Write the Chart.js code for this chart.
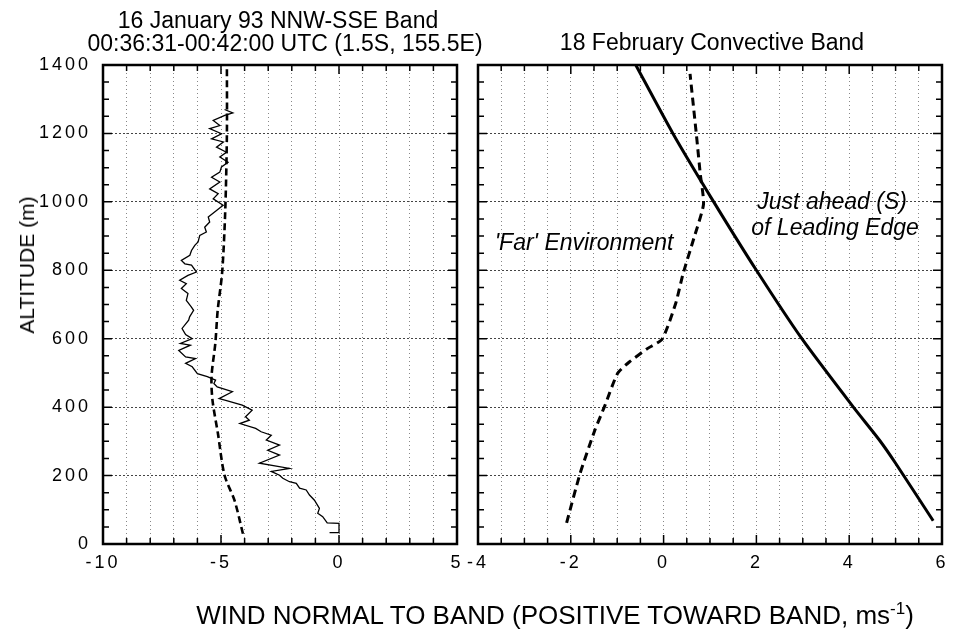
<!DOCTYPE html>
<html>
<head>
<meta charset="utf-8">
<script src="https://cdn.jsdelivr.net/npm/chart.js@4.4.1/dist/chart.umd.min.js"></script>
<style>
  body { margin: 0; background: #fff; }
  #wrap { position: relative; width: 955px; height: 636px; background: #fff; overflow: hidden; }
  canvas { position: absolute; top: 0; }
  .lbl { position: absolute; transform: translate(-50%, -50%); white-space: nowrap;
         font-family: "Liberation Sans", Arial, sans-serif; color: #000; }
</style>
</head>
<body>
<div id="wrap">
  <canvas id="janChart" width="475" height="600" style="left:0"></canvas>
  <canvas id="febChart" width="500" height="600" style="left:455px"></canvas>
  <div class="lbl" style="left:278px;top:20px;font-size:23px">16 January 93 NNW-SSE Band</div>
  <div class="lbl" style="left:285px;top:43px;font-size:23px">00:36:31-00:42:00 UTC (1.5S, 155.5E)</div>
  <div class="lbl" style="left:712px;top:42px;font-size:23px">18 February Convective Band</div>
  <div class="lbl" style="left:27px;top:265px;font-size:21px;transform:translate(-50%,-50%) rotate(-90deg)">ALTITUDE (m)</div>
  <div class="lbl" style="left:555px;top:615px;font-size:26px">WIND NORMAL TO BAND (POSITIVE TOWARD BAND, ms<sup style="font-size:17px">-1</sup>)</div>
</div>

<script>
// 16 January - aircraft profile (solid) and smoothed profile (dashed)
const janSolidWind = [-0.4, 0.0, 0.0, -0.5, -0.69, -0.9, -0.83, -1.04, -1.25, -1.39, -1.67, -1.81, -2.1, -2.38, -2.52, -2.87, -2.1, -3.37, -2.52, -3.02, -2.52, -3.08, -2.87, -3.3, -3.53, -4.2, -3.8, -3.96, -3.68, -4.1, -4.8, -5.08, -4.52, -5.16, -5.3, -5.23, -5.58, -6.0, -6.22, -6.5, -6.08, -6.5, -6.79, -6.3, -6.72, -6.22, -6.5, -6.65, -6.37, -6.33, -6.16, -6.26, -6.47, -6.4, -6.68, -6.47, -6.75, -6.4, -6.04, -6.25, -6.53, -6.68, -6.32, -6.25, -6.11, -5.97, -5.9, -5.62, -5.69, -5.48, -5.54, -5.19, -4.91, -5.33, -5.12, -5.48, -5.05, -5.4, -5.05, -4.98, -4.7, -5.05, -4.77, -5.19, -4.9, -5.4, -4.98, -5.48, -5.05, -5.33, -4.84, -4.5, -4.85];
const janSolidAlt = [33, 33, 60, 62, 80, 90, 104, 128, 143, 158, 163, 177, 182, 192, 201, 212, 221, 236, 260, 274, 289, 304, 318, 328, 338, 352, 362, 372, 391, 406, 420, 425, 445, 459, 469, 479, 489, 498, 518, 528, 542, 547, 566, 581, 586, 600, 612, 630, 654, 664, 683, 693, 712, 732, 747, 761, 771, 785, 795, 815, 819, 829, 844, 858, 873, 883, 902, 912, 926, 941, 956, 975, 990, 1009, 1024, 1038, 1058, 1072, 1087, 1102, 1116, 1131, 1145, 1160, 1175, 1184, 1199, 1214, 1223, 1238, 1253, 1260, 1270];
const janDashWind = [-4.07, -4.43, -4.85, -5.13, -5.36, -5.4, -5.24, -5.14, -4.95, -4.82, -4.75, -4.75];
const janDashAlt = [30, 128, 201, 323, 420, 490, 587, 683, 795, 975, 1200, 1400];

// 18 February - just ahead of leading edge (solid) and 'far' environment (dashed)
const febNearWind = [5.81, 5.0, 4.65, 4.09, 2.98, 2.0, 1.08, 0.2, -0.6];
const febNearAlt = [68, 236, 304, 400, 600, 800, 1000, 1200, 1400];
const febFarWind = [-2.09, -1.8, -1.48, -1.27, -0.99, -0.74, -0.35, -0.03, 0.26, 0.42, 0.66, 0.86, 0.79, 0.71, 0.57];
const febFarAlt = [62, 206, 333, 403, 499, 532, 571, 599, 703, 790, 897, 993, 1082, 1192, 1374];

const altTicks = [0, 200, 400, 600, 800, 1000, 1200, 1400];
const janTickLabels = [-10, -5, 0, 5];
const febTickLabels = [-4, -2, 0, 2, 4, 6];

const FONT = "'Liberation Sans', Arial, sans-serif";

function pts(xs, ys) {
  return xs.map((x, i) => ({ x: x, y: ys[i] }));
}

// inward tick marks + full frame, like the original plot
const frameTicks = {
  id: "frameTicks",
  beforeDraw(chart) {
    chart.ctx.letterSpacing = "3px";
  },
  afterDatasetsDraw(chart) {
    const ctx = chart.ctx;
    const a = chart.chartArea;
    const xs = chart.scales.x, ys = chart.scales.y;
    ctx.save();
    ctx.strokeStyle = "#000";
    ctx.lineWidth = 1.5;
    ctx.setLineDash([]);
    ctx.beginPath();
    xs.ticks.forEach((t) => {
      const px = xs.getPixelForValue(t.value);
      const len = t.label !== "" ? 9 : 6;
      ctx.moveTo(px, a.bottom); ctx.lineTo(px, a.bottom - len);
      ctx.moveTo(px, a.top); ctx.lineTo(px, a.top + len);
    });
    ys.ticks.forEach((t) => {
      const py = ys.getPixelForValue(t.value);
      const len = t.value % 200 === 0 ? 9 : 6;
      ctx.moveTo(a.left, py); ctx.lineTo(a.left + len, py);
      ctx.moveTo(a.right, py); ctx.lineTo(a.right - len, py);
    });
    ctx.stroke();
    ctx.lineWidth = 2.5;
    ctx.strokeRect(a.left, a.top, a.right - a.left, a.bottom - a.top);
    ctx.restore();
  }
};

// italic curve labels on the February panel
const curveNotes = {
  id: "curveNotes",
  afterDatasetsDraw(chart, args, opts) {
    if (!opts.notes) return;
    const ctx = chart.ctx;
    ctx.save();
    ctx.letterSpacing = "0px";
    ctx.font = "italic 23px " + FONT;
    ctx.fillStyle = "#000";
    ctx.textBaseline = "middle";
    opts.notes.forEach((n) => {
      ctx.fillText(n.text, chart.scales.x.getPixelForValue(n.x), chart.scales.y.getPixelForValue(n.y));
    });
    ctx.restore();
  }
};

function makeOptions(xMin, xMax, step, labels, showY, padRight, yWidth, notes) {
  return {
    responsive: false,
    animation: false,
    layout: { padding: { top: 65, right: padRight, left: 0, bottom: 0 } },
    plugins: {
      legend: { display: false },
      tooltip: { enabled: false },
      curveNotes: { notes: notes }
    },
    scales: {
      x: {
        type: "linear",
        min: xMin,
        max: xMax,
        afterFit: (s) => { s.height = 56; },
        ticks: {
          stepSize: step,
          autoSkip: false,
          maxRotation: 0,
          padding: 8,
          color: "#000",
          font: { family: FONT, size: 18 },
          callback: (v) => (labels.includes(v) ? String(v) : "")
        },
        grid: { color: "#888", lineWidth: 1, drawTicks: false },
        border: { display: false, dash: [1, 3] }
      },
      y: {
        type: "linear",
        min: 0,
        max: 1400,
        afterFit: (s) => { s.width = yWidth; },
        ticks: {
          stepSize: 50,
          autoSkip: false,
          display: showY,
          padding: 12,
          color: "#000",
          font: { family: FONT, size: 18 },
          callback: (v) => (altTicks.includes(v) ? String(v) : "")
        },
        grid: {
          drawTicks: false,
          lineWidth: 1,
          color: (c) => (c.tick && c.tick.value % 200 === 0 ? "#444" : "rgba(0,0,0,0)")
        },
        border: { display: false, dash: [2, 2] }
      }
    }
  };
}

new Chart(document.getElementById("janChart"), {
  type: "scatter",
  data: {
    datasets: [
      {
        data: pts(janSolidWind, janSolidAlt),
        showLine: true, borderColor: "#000", borderWidth: 1.3,
        pointRadius: 0, tension: 0
      },
      {
        data: pts(janDashWind, janDashAlt),
        showLine: true, borderColor: "#000", borderWidth: 2.6,
        borderDash: [7, 4], pointRadius: 0, tension: 0.3
      }
    ]
  },
  options: makeOptions(-10, 5, 1, janTickLabels, true, 18, 103, null),
  plugins: [frameTicks, curveNotes]
});

new Chart(document.getElementById("febChart"), {
  type: "scatter",
  data: {
    datasets: [
      {
        data: pts(febNearWind, febNearAlt),
        showLine: true, borderColor: "#000", borderWidth: 3,
        pointRadius: 0, tension: 0.2
      },
      {
        data: pts(febFarWind, febFarAlt),
        showLine: true, borderColor: "#000", borderWidth: 3,
        borderDash: [8, 5], pointRadius: 0, tension: 0.2
      }
    ]
  },
  options: makeOptions(-4, 6, 0.5, febTickLabels, false, 7, 23, [
    { text: "'Far' Environment", x: -3.64, y: 879 },
    { text: "Just ahead (S)", x: 2.02, y: 999 },
    { text: "of Leading Edge", x: 1.89, y: 922 }
  ]),
  plugins: [frameTicks, curveNotes]
});
</script>
</body>
</html>
